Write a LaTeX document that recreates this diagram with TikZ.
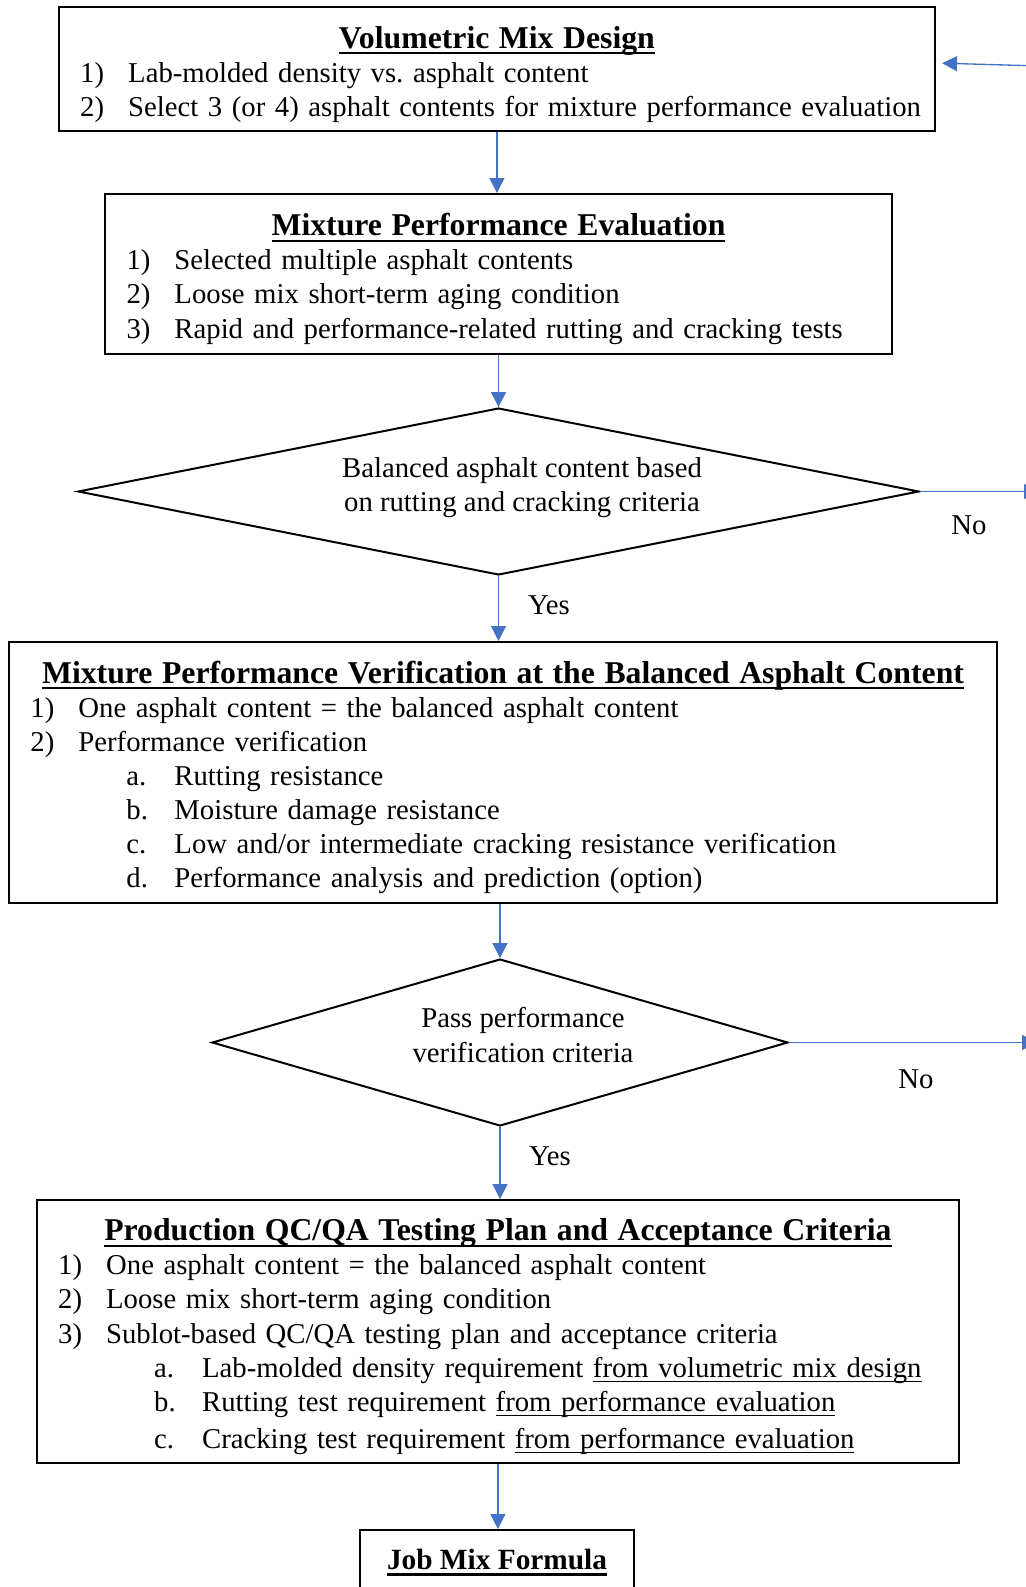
\documentclass[tikz,border=0pt]{standalone}
\usepackage{fontspec}
\setmainfont{Liberation Serif}
\usetikzlibrary{positioning, shapes.geometric, arrows.meta}
\definecolor{flowblue}{HTML}{4472C4}
\tikzstyle{Arrow} = [
	draw=flowblue,
	line width=0.5pt,
	-{Triangle[length=5.6pt, width=5.6pt]}
	]
\newsavebox{\undlbox}
\newcommand{\undl}[1]{\sbox\undlbox{#1}\rlap{\rule[-1.9pt]{\wd\undlbox}{0.5pt}}\usebox\undlbox}
\newcommand{\boxhead}[1]{\sbox\undlbox{\fontsize{11.9}{12.8}\selectfont\bfseries #1}%
	\rule{0pt}{12pt}\makebox[\linewidth]{\rlap{\rule[-2.4pt]{\wd\undlbox}{0.9pt}}\usebox\undlbox}}
\newcommand{\itm}[2]{\mbox{\makebox[18pt][l]{#1}#2}}
\newcommand{\subitm}[2]{\mbox{\hspace*{36pt}\makebox[18pt][l]{#1}#2}}

\begin{document}
\begin{tikzpicture}[
x=0.375pt, y=-0.375pt,
font=\fontsize{10.77}{12.8}\selectfont,
textbox/.style={rectangle, draw, line width=0.75pt, align=left,
	inner xsep=8.06pt, inner ysep=0pt},
decision/.style={diamond, draw, line width=0.75pt, inner sep=0pt,
	minimum height=62.6pt}
]
 \useasboundingbox (0,0) rectangle (1026,1587);

 \node [textbox, minimum width=328.6pt, minimum height=46.7pt, text width=312.5pt]
 	(vmd) at (496.9,69.2) {
 	\boxhead{Volumetric Mix Design}\\
 	\itm{1)}{Lab-molded density vs.\ asphalt content}\\
 	\itm{2)}{Select 3 (or 4) asphalt contents for mixture performance evaluation}
 	};

 \node [textbox, minimum width=295.1pt, minimum height=60pt, text width=279pt]
 	(pme) at (498.5,274) {
 	\boxhead{Mixture Performance Evaluation}\\
 	\itm{1)}{Selected multiple asphalt contents}\\
 	\itm{2)}{Loose mix short-term aging condition}\\
 	\itm{3)}{Rapid and performance-related rutting and cracking tests}
 	};

 \node [decision, minimum width=315.4pt] (dia1) at (498.5,491.5) {};
 \node [align=center] (dia1txt) at (522,488)
 	{Balanced asphalt content based\\on rutting and cracking criteria};

 \node [textbox, minimum width=370.5pt, minimum height=97.9pt, text width=354.4pt]
 	(pvf) at (503,772.5) {
 	\boxhead{Mixture Performance Verification at the Balanced Asphalt Content}\\
 	\itm{1)}{One asphalt content = the balanced asphalt content}\\
 	\itm{2)}{Performance verification}\\
 	\subitm{a.}{Rutting resistance}\\
 	\subitm{b.}{Moisture damage resistance}\\
 	\subitm{c.}{Low and/or intermediate cracking resistance verification}\\
 	\subitm{d.}{Performance analysis and prediction (option)}
 	};

 \node [decision, minimum width=216pt] (dia2) at (500,1042.5) {};
 \node [align=center] (dia2txt) at (523,1035)
 	{Pass performance\\verification criteria};

 \node [textbox, minimum width=345.9pt, minimum height=98.6pt, text width=329.8pt]
 	(qcqa) at (497.9,1331.5) {
 	\boxhead{Production QC/QA Testing Plan and Acceptance Criteria}\\
 	\itm{1)}{One asphalt content = the balanced asphalt content}\\
 	\itm{2)}{Loose mix short-term aging condition}\\
 	\itm{3)}{Sublot-based QC/QA testing plan and acceptance criteria}\\
 	\subitm{a.}{Lab-molded density requirement \undl{from volumetric mix design}}\\
 	\subitm{b.}{Rutting test requirement \undl{from performance evaluation}}\\[1pt]
 	\subitm{c.}{Cracking test requirement \undl{from performance evaluation}}
 	};

 \node [rectangle, draw, line width=0.75pt, anchor=north, minimum width=102.75pt,
 	inner ysep=7.3pt, text height=7.5pt, text depth=30pt]
 	(jmf) at (497,1529) {\sbox\undlbox{\fontsize{11}{12.8}\selectfont\bfseries Job Mix Formula}%
 	\rlap{\rule[-2.3pt]{\wd\undlbox}{0.9pt}}\usebox\undlbox};

 \node (no1) at (969,525) {No};
 \node (yes1) at (549,605) {Yes};
 \node (no2) at (916,1079) {No};
 \node (yes2) at (550,1156) {Yes};

 \coordinate (loop1) at (1039,491.5);
 \coordinate (loop2) at (1037,1042.5);
 \coordinate (loop3) at (1040,66);

 \draw[Arrow] (vmd.south) -- (vmd.south |- pme.north);
 \draw[Arrow] (pme.south -| dia1.north) -- (dia1.north);
 \draw[Arrow] (dia1.south) -- (dia1.south |- pvf.north);
 \draw[Arrow] (pvf.south -| dia2.north) -- (dia2.north);
 \draw[Arrow] (dia2.south) -- (dia2.south |- qcqa.north);
 \draw[Arrow] (qcqa.south) -- (qcqa.south |- jmf.north);

 \draw[Arrow] (dia1.east) -- (loop1);
 \draw[Arrow] (dia2.east) -- (loop2);
 \draw[Arrow] (loop3) -- ([shift={(6,-6)}]vmd.east);

\end{tikzpicture}
\end{document}
